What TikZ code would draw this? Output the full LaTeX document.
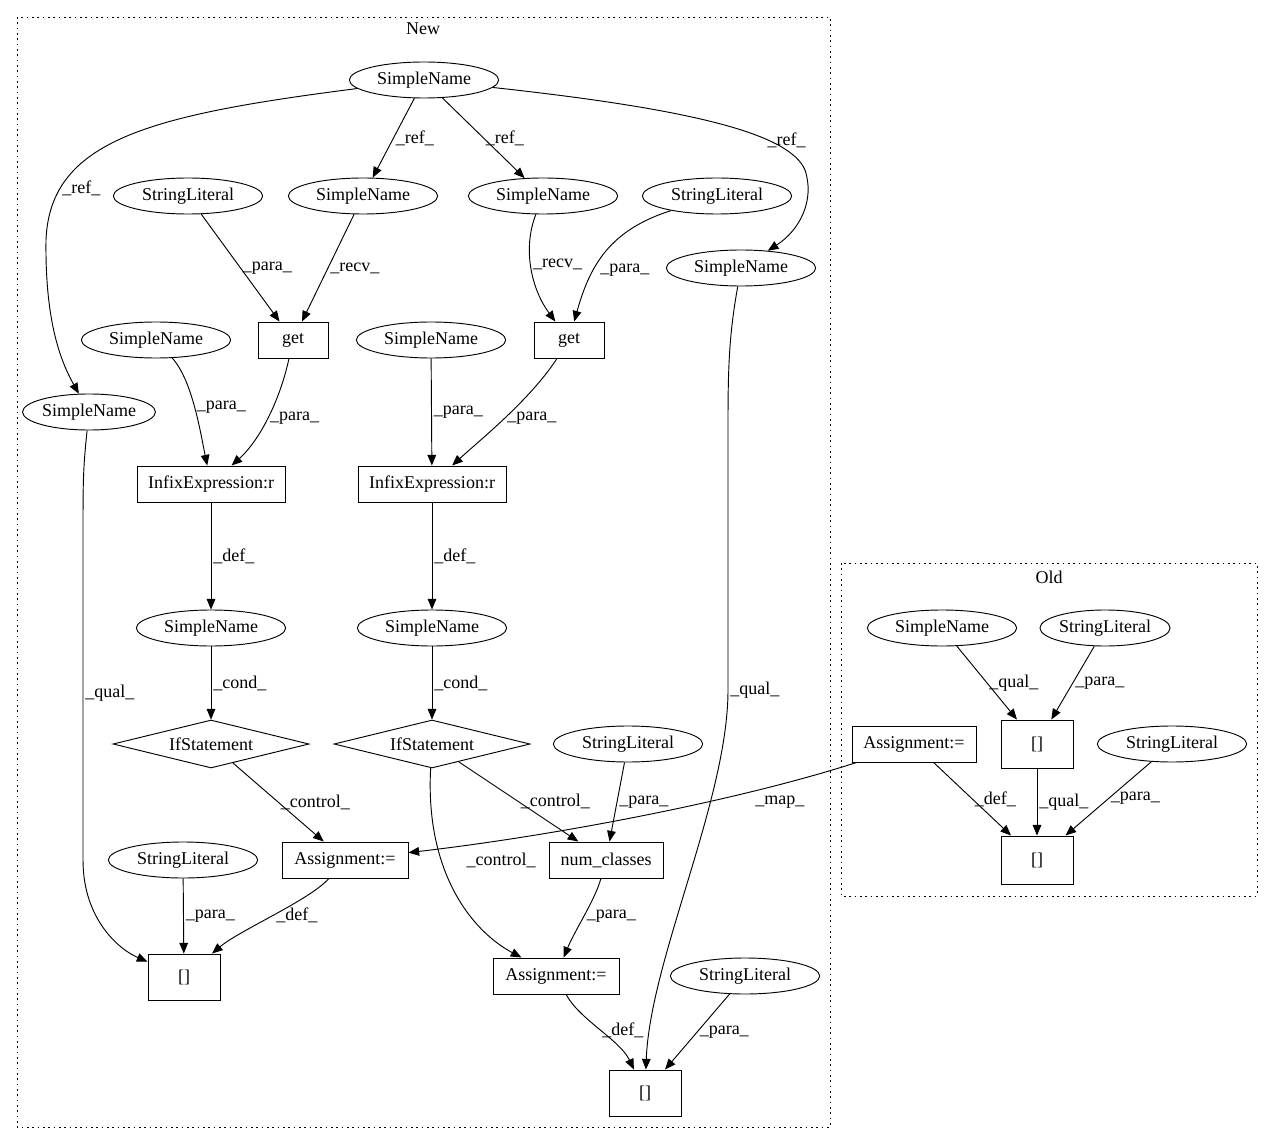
\documentclass[tikz,border=0pt]{standalone}
\usepackage{fontspec}
\setmainfont{Liberation Serif}
\usetikzlibrary{shapes.geometric,arrows.meta}

\begin{document}
\begin{tikzpicture}[x=0.75pt, y=-0.75pt, >={Triangle[length=8pt,width=6.5pt]},
  font=\fontsize{13.5}{16}\selectfont,
  sname/.style={draw, line width=0.7pt, ellipse, minimum width=112pt, minimum height=27pt, inner sep=0pt},
  box/.style={draw, line width=0.7pt, rectangle, minimum height=27pt, inner sep=0pt},
  brk/.style={box, minimum width=54pt, minimum height=34.5pt},
  cond/.style={draw, line width=0.7pt, diamond, aspect=4, minimum width=147pt, minimum height=36pt, inner sep=0pt},
  edge/.style={->, line width=0.7pt},
  lbl/.style={inner sep=1.5pt, right},
  cluster/.style={draw, line width=0.7pt, dash pattern=on 1.2pt off 2.8pt}]
  \useasboundingbox (0,0) rectangle (1273,1144);

  % Clusters
  \draw[cluster] (17,17) rectangle (830,1127);
  \node (newlbl) at (423,29) {New};
  \draw[cluster] (841,563) rectangle (1257,896);
  \node (oldlbl) at (1049,577) {Old};

  % New: names and literals
  \node[sname] (top) at (424,80) {SimpleName};
  \node[sname] (sl1) at (188,196) {StringLiteral};
  \node[sname] (sn2) at (363,196) {SimpleName};
  \node[sname] (sn3) at (543,196) {SimpleName};
  \node[sname] (sl2) at (717,196) {StringLiteral};
  \node[sname] (sn4) at (741,268) {SimpleName};
  \node[sname] (sn5) at (156,340) {SimpleName};
  \node[sname] (sn6) at (431,340) {SimpleName};
  \node[sname, minimum width=93pt] (sn7) at (89,412) {SimpleName};
  \node[sname] (sn8) at (211,628) {SimpleName};
  \node[sname] (sn9) at (432,628) {SimpleName};
  \node[sname] (sl3) at (628,744) {StringLiteral};
  \node[sname] (sl4) at (183,860) {StringLiteral};
  \node[sname] (sl5) at (745,976) {StringLiteral};

  % New: operations
  \node[box, minimum width=52.5pt] (get1) at (293,340) {get};
  \node[box, minimum width=52.5pt] (get2) at (569,340) {get};
  \node[box, minimum width=111pt] (inf1) at (211,484) {InfixExpression:r};
  \node[box, minimum width=111pt] (inf2) at (432,484) {InfixExpression:r};
  \node[cond] (if1) at (211,744) {IfStatement};
  \node[cond] (if2) at (432,744) {IfStatement};
  \node[box, minimum width=94.5pt] (asg1) at (345,860) {Assignment:=};
  \node[box, minimum width=85.5pt] (num) at (606,860) {num\_classes};
  \node[brk] (br1) at (184,977) {[]};
  \node[box, minimum width=94.5pt] (asg2) at (556,976) {Assignment:=};
  \node[brk] (br2) at (645,1093) {[]};

  % Old
  \node[sname] (osn) at (942,628) {SimpleName};
  \node[sname, minimum width=90pt] (osl1) at (1105,628) {StringLiteral};
  \node[box, minimum width=93pt] (oasg) at (914,744) {Assignment:=};
  \node[brk, minimum height=36pt] (obr1) at (1037,744) {[]};
  \node[sname] (osl2) at (1172,744) {StringLiteral};
  \node[brk, minimum height=36pt] (obr2) at (1037,860) {[]};

  % New: edges
  \draw[edge] (top) .. controls (150,115) and (50,140) .. (46,240) node[lbl, pos=0.8] {\_ref\_}
    .. controls (45,320) and (60,360) .. (sn7);
  \draw[edge] (top) -- (sn2) node[lbl, pos=0.5] {\_ref\_};
  \draw[edge] (top) -- (sn3) node[lbl, pos=0.5] {\_ref\_};
  \draw[edge] (top) .. controls (700,110) and (790,135) .. (805,170) node[inner sep=1.5pt, above, pos=0.8] {\_ref\_}
    .. controls (815,200) and (800,230) .. (sn4);
  \draw[edge] (sl1) -- (get1) node[lbl, pos=0.5] {\_para\_};
  \draw[edge] (sn2) -- (get1) node[lbl, pos=0.5] {\_recv\_};
  \draw[edge] (sn3) .. controls (522,250) and (532,290) .. (get2) node[lbl, pos=0.45] {\_recv\_};
  \draw[edge] (sl2) .. controls (610,230) and (590,265) .. (get2) node[lbl, pos=0.65, xshift=3pt] {\_para\_};
  \draw[edge] (sn5) .. controls (192,380) and (200,430) .. (inf1) node[lbl, pos=0.5] {\_para\_};
  \draw[edge] (get1) .. controls (280,400) and (260,440) .. (inf1) node[lbl, pos=0.5] {\_para\_};
  \draw[edge] (sn6) -- (inf2) node[lbl, pos=0.5] {\_para\_};
  \draw[edge] (get2) .. controls (530,400) and (480,440) .. (inf2) node[lbl, pos=0.5] {\_para\_};
  \draw[edge] (inf1) -- (sn8) node[lbl, pos=0.5] {\_def\_};
  \draw[edge] (inf2) -- (sn9) node[lbl, pos=0.5] {\_def\_};
  \draw[edge] (sn8) -- (if1) node[lbl, pos=0.5] {\_cond\_};
  \draw[edge] (sn9) -- (if2) node[lbl, pos=0.5] {\_cond\_};
  \draw[edge] (if1) -- (asg1) node[lbl, pos=0.5] {\_control\_};
  \draw[edge] (if2) -- (num) node[lbl, pos=0.5] {\_control\_};
  \draw[edge] (if2) .. controls (425,870) and (470,930) .. (asg2) node[lbl, pos=0.35, xshift=17pt] {\_control\_};
  \draw[edge] (sl3) -- (num) node[lbl, pos=0.5] {\_para\_};
  \draw[edge] (sn7) .. controls (83,470) and (83,480) .. (83,540) -- (83,860) node[lbl, pos=0.48] {\_qual\_}
    .. controls (83,920) and (120,950) .. (br1);
  \draw[edge] (sl4) -- (br1) node[lbl, pos=0.5] {\_para\_};
  \draw[edge] (asg1) .. controls (310,900) and (240,930) .. (br1) node[lbl, pos=0.5] {\_def\_};
  \draw[edge] (num) .. controls (595,900) and (575,930) .. (asg2) node[lbl, pos=0.5] {\_para\_};
  \draw[edge] (asg2) .. controls (580,1020) and (620,1040) .. (br2) node[lbl, pos=0.5] {\_def\_};
  \draw[edge] (sl5) -- (br2) node[lbl, pos=0.5] {\_para\_};
  \draw[edge] (sn4) .. controls (730,330) and (728,360) .. (728,420) -- (728,690) node[lbl, pos=1] {\_qual\_}
    .. controls (728,800) and (650,960) .. (br2);

  % Old: edges
  \draw[edge] (oasg) .. controls (740,800) and (560,835) .. (asg1) node[inner sep=2pt, below, pos=0.2, yshift=-6pt] {\_map\_};
  \draw[edge] (osn) -- (obr1) node[lbl, pos=0.5] {\_qual\_};
  \draw[edge] (osl1) -- (obr1) node[lbl, pos=0.5] {\_para\_};
  \draw[edge] (oasg) -- (obr2) node[lbl, pos=0.5] {\_def\_};
  \draw[edge] (obr1) -- (obr2) node[lbl, pos=0.5] {\_qual\_};
  \draw[edge] (osl2) -- (obr2) node[lbl, pos=0.5] {\_para\_};
\end{tikzpicture}
\end{document}
